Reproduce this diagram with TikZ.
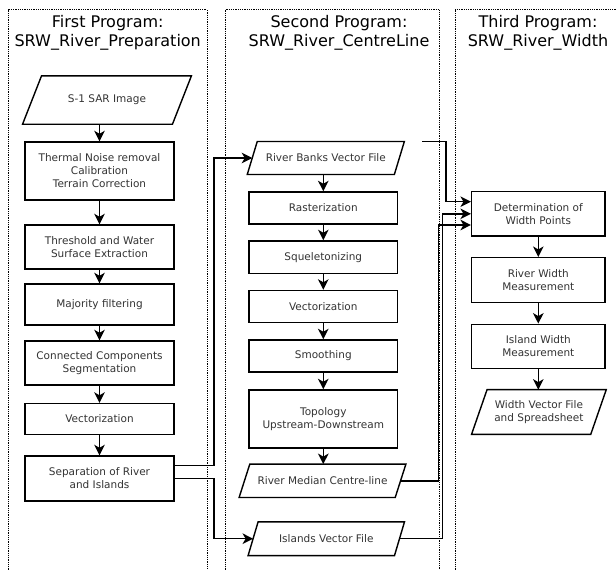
\documentclass[tikz,border=0pt]{standalone}
\usepackage{fontspec}
\setmainfont{DejaVu Sans}
\usetikzlibrary{arrows.meta,calc}
\tikzset{
  panel/.style={densely dotted, line width=0.8pt},
  boxline/.style={line width=1.4pt, line join=miter},
  procbox/.style={draw, boxline, fill=white, inner sep=0pt, align=center,
    font=\fontsize{10.5}{13}\selectfont, text=black!80},
  ptext/.style={inner sep=0pt, align=center,
    font=\fontsize{10.5}{13}\selectfont, text=black!80},
  ttl/.style={anchor=base, inner sep=0pt, font=\fontsize{16}{19.5}\selectfont},
  arr/.style={line width=1.5pt, -{Stealth[length=10.5pt,width=10.5pt,inset=3pt]}},
}
% name, x, y, width, height, slant, text
\newcommand{\paranode}[7]{%
  \node[ptext, minimum width=#4pt, minimum height=#5pt] (#1) at (#2,#3) {#7};
  \draw[boxline] ([xshift={-0.5*#6pt}]#1.south west) -- ([xshift={0.5*#6pt}]#1.north west)
    -- ([xshift={0.5*#6pt}]#1.north east) -- ([xshift={-0.5*#6pt}]#1.south east) -- cycle;
}
\begin{document}
\begin{tikzpicture}[x=1pt,y=-1pt]
\useasboundingbox (0,0) rectangle (616,570);
\begin{scope}
\clip (0,0) rectangle (616,570);
\draw[panel] (8,9.5) rectangle (207,590);
\draw[panel] (225,9.5) rectangle (439,590);
\draw[panel] (455,9.5) rectangle (640,590);
\end{scope}

% titles
\node[ttl] (t1a) at (107.7,27.3) {First Program:};
\node[ttl] (t1b) at (107.7,46.7) {SRW\_River\_Preparation};
\node[ttl] (t2a) at (339,27.3) {Second Program:};
\node[ttl] (t2b) at (339,46.7) {SRW\_River\_CentreLine};
\node[ttl] (t3a) at (538,27.3) {Third Program:};
\node[ttl] (t3b) at (538,46.7) {SRW\_River\_Width};

% panel 1
\paranode{sar}{107}{100}{149.5}{48}{19}{S-1 SAR Image}
\node[procbox, minimum width=149pt, minimum height=58pt] (p1) at (99.5,171) {Thermal Noise removal\\Calibration\\Terrain Correction};
\node[procbox, minimum width=149pt, minimum height=44pt] (p2) at (99.5,247) {Threshold and Water\\Surface Extraction};
\node[procbox, minimum width=149pt, minimum height=41pt] (p3) at (99.5,304.5) {Majority filtering};
\node[procbox, minimum width=149pt, minimum height=44pt] (p4) at (99.5,363) {Connected Components\\Segmentation};
\node[procbox, minimum width=149pt, minimum height=31pt] (p5) at (99.5,419) {Vectorization};
\node[procbox, minimum width=149pt, minimum height=45pt] (p6) at (99.5,478.5) {Separation of River\\and Islands};

\draw[arr] (p1.north |- sar.south) -- (p1.north);
\draw[arr] (p1) -- (p2);
\draw[arr] (p2) -- (p3);
\draw[arr] (p3) -- (p4);
\draw[arr] (p4) -- (p5);
\draw[arr] (p5) -- (p6);

% panel 2
\paranode{rb}{325.8}{158}{146.7}{32.6}{10}{River Banks Vector File}
\node[procbox, minimum width=148.7pt, minimum height=32pt] (r1) at (323.3,208) {Rasterization};
\node[procbox, minimum width=148.7pt, minimum height=32.7pt] (r2) at (323.3,257.3) {Squeletonizing};
\node[procbox, minimum width=148.7pt, minimum height=32pt] (r3) at (323.3,306.5) {Vectorization};
\node[procbox, minimum width=148.7pt, minimum height=32pt] (r4) at (323.3,356) {Smoothing};
\node[procbox, minimum width=148.7pt, minimum height=58pt] (r5) at (323.3,419) {Topology\\Upstream-Downstream};
\paranode{rm}{322.5}{480.8}{155.7}{33}{10.7}{River Median Centre-line}
\paranode{iv}{326.3}{538.7}{146}{33.3}{10}{Islands Vector File}

\draw[arr] (r1.north |- rb.south) -- (r1.north);
\draw[arr] (r1) -- (r2);
\draw[arr] (r2) -- (r3);
\draw[arr] (r3) -- (r4);
\draw[arr] (r4) -- (r5);
\draw[arr] (r5.south) -- (r5.south |- rm.north);

% panel 3
\node[procbox, minimum width=133.3pt, minimum height=44.3pt] (d1) at (538.3,213.8) {Determination of\\Width Points};
\node[procbox, minimum width=133.3pt, minimum height=44.7pt] (d2) at (538.3,280) {River Width\\Measurement};
\node[procbox, minimum width=133.3pt, minimum height=44pt] (d3) at (538.3,346.3) {Island Width\\Measurement};
\paranode{wv}{538.9}{412}{118.8}{44.3}{15.5}{Width Vector File\\and Spreadsheet}

\draw[arr] (d1) -- (d2);
\draw[arr] (d2) -- (d3);
\draw[arr] (d3.south) -- (d3.south |- wv.north);

% cross-program connectors
\draw[arr] ([yshift=12.8pt]p6.east) -| ([xshift=-38.5pt]rb.west) -- (rb.west);
\draw[arr] (p6.east) -| ([xshift=-39.3pt]iv.west) -- (iv.west);
\coordinate (rbout) at (422,141.7);
\draw[arr] (rbout) -| ([xshift=-25.2pt,yshift=12.1pt]d1.west) -- ([yshift=12.1pt]d1.west);
\draw[arr] (iv.east) -| ([xshift=-28.7pt]d1.west) -- (d1.west);
\draw[arr] (rm.east) -| ([xshift=-32.4pt,yshift=-11.2pt]d1.west) -- ([yshift=-11.2pt]d1.west);
\end{tikzpicture}
\end{document}
